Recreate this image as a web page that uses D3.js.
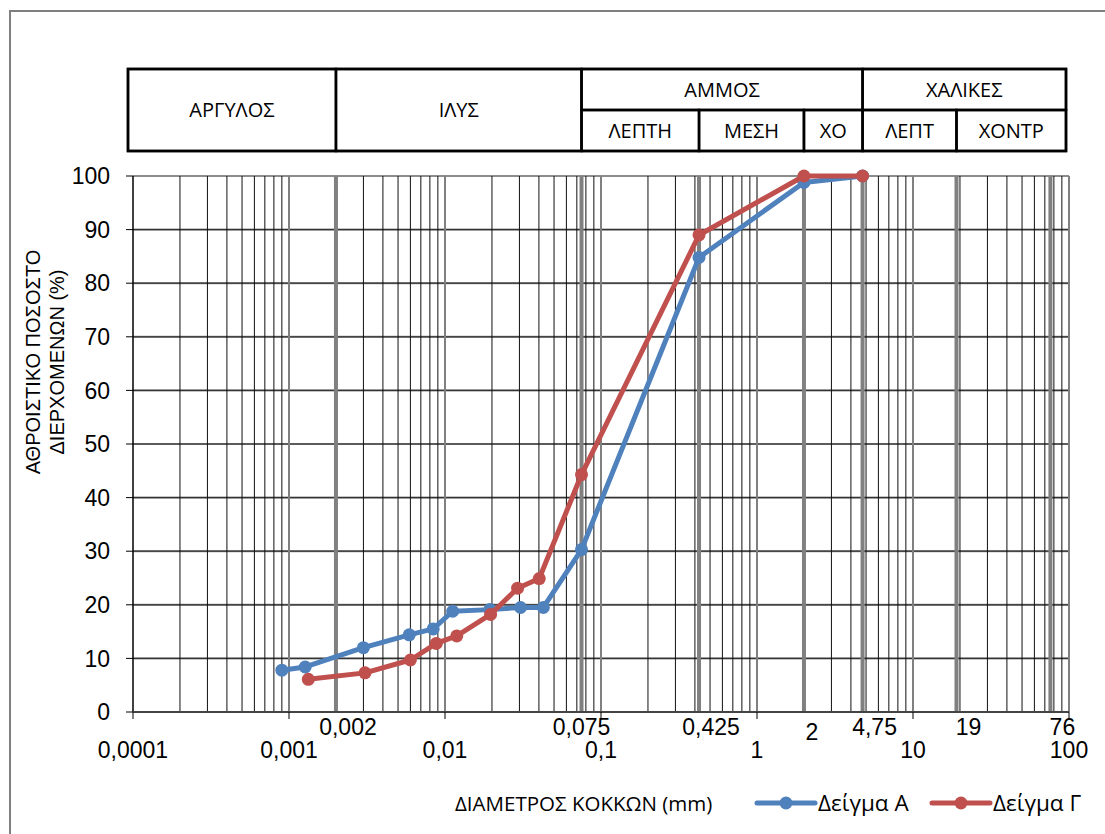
<!DOCTYPE html>
<html>
<head>
<meta charset="utf-8">
<script src="https://cdn.jsdelivr.net/npm/d3@7"></script>
<style>
  body { margin: 0; background: #fff; }
  svg { display: block; }
</style>
</head>
<body>
<div id="chart"></div>
<script>
// grain size data (diameter in mm, % passing)
var diamA = [0.0009, 0.00127, 0.003, 0.0059, 0.0084, 0.0112, 0.0194, 0.0305, 0.0427, 0.075, 0.425, 2, 4.75];
var passA = [7.8, 8.4, 12.0, 14.4, 15.5, 18.8, 19.1, 19.5, 19.5, 30.3, 84.8, 98.8, 100];
var diamG = [0.00133, 0.00307, 0.006, 0.0088, 0.0119, 0.0196, 0.0292, 0.0402, 0.075, 0.425, 2, 4.75];
var passG = [6.1, 7.3, 9.7, 12.8, 14.2, 18.2, 23.1, 24.9, 44.3, 89.0, 100, 100];

var seriesNames = ["Δείγμα Α", "Δείγμα Γ"];
var decadeTicks = [0.0001, 0.001, 0.01, 0.1, 1, 10, 100];
var decadeLabels = ["0,0001", "0,001", "0,01", "0,1", "1", "10", "100"];
var sieveTicks = [0.002, 0.075, 0.425, 2, 4.75, 19, 76];
var sieveLabels = ["0,002", "0,075", "0,425", "2", "4,75", "19", "76"];
var yTicks = [0, 10, 20, 30, 40, 50, 60, 70, 80, 90, 100];

// soil class header (boundaries in mm)
var topCells = [
    { name: "ΑΡΓΥΛΟΣ", from: null, to: 0.002, span: 2 },
    { name: "ΙΛΥΣ", from: 0.002, to: 0.075, span: 2 },
    { name: "ΑΜΜΟΣ", from: 0.075, to: 4.75, span: 1 },
    { name: "ΧΑΛΙΚΕΣ", from: 4.75, to: null, span: 1 }
];
var subCells = [
    { name: "ΛΕΠΤΗ", from: 0.075, to: 0.425 },
    { name: "ΜΕΣΗ", from: 0.425, to: 2 },
    { name: "ΧΟ", from: 2, to: 4.75 },
    { name: "ΛΕΠΤ", from: 4.75, to: 19 },
    { name: "ΧΟΝΤΡ", from: 19, to: null }
];

var w = 1105, h = 834;
var plotL = 133, plotR = 1069, plotT = 176, plotB = 712;
var tableL = 128, tableR = 1066, tableT = 69, tableM = 110, tableB = 151;

var colorA = "#4f81bd", colorG = "#c0504d";
var numFont = "'Liberation Sans', Arial, sans-serif";
var txtFont = "'Open Sans', 'Noto Sans', sans-serif";

var x = d3.scaleLog().domain([0.0001, 100]).range([plotL, plotR]);
var y = d3.scaleLinear().domain([0, 100]).range([plotB, plotT]);

var svg = d3.select("#chart")
    .append("svg")
    .attr("width", w)
    .attr("height", h);

// outer chart border
svg.append("rect")
    .attr("x", 10).attr("y", 11)
    .attr("width", w).attr("height", h)
    .attr("fill", "none")
    .attr("stroke", "#7f7f7f")
    .attr("stroke-width", 2);

// --- gridlines ---
var grid = svg.append("g");

var minorVals = [];
for (var e = -4; e < 2; e++) {
    for (var m = 2; m <= 9; m++) {
        minorVals.push(m * Math.pow(10, e));
    }
}

// horizontal gridlines
grid.selectAll(".hgrid")
    .data(yTicks)
    .enter()
    .append("line")
    .attr("x1", plotL).attr("x2", plotR)
    .attr("y1", (d) => y(d)).attr("y2", (d) => y(d))
    .attr("stroke", "#8c8c8c")
    .attr("stroke-width", 2.2);

grid.selectAll(".hgrid2")
    .data(yTicks.filter((d) => d > 0 && d < 100))
    .enter()
    .append("line")
    .attr("x1", plotL).attr("x2", plotR)
    .attr("y1", (d) => y(d)).attr("y2", (d) => y(d))
    .attr("stroke", "#111")
    .attr("stroke-width", 1)
    .attr("stroke-opacity", 0.8);

// minor log lines
grid.selectAll(".minor")
    .data(minorVals)
    .enter()
    .append("line")
    .attr("x1", (d) => x(d)).attr("x2", (d) => x(d))
    .attr("y1", plotT).attr("y2", plotB)
    .attr("stroke", "#111")
    .attr("stroke-width", 1);

// decade lines
grid.selectAll(".decade")
    .data(decadeTicks.slice(1))
    .enter()
    .append("line")
    .attr("x1", (d) => x(d)).attr("x2", (d) => x(d))
    .attr("y1", plotT).attr("y2", plotB)
    .attr("stroke", "#808080")
    .attr("stroke-width", 2);

// sieve lines
grid.selectAll(".sieve")
    .data(sieveTicks)
    .enter()
    .append("line")
    .attr("x1", (d) => x(d)).attr("x2", (d) => x(d))
    .attr("y1", plotT).attr("y2", plotB)
    .attr("stroke", "#808080")
    .attr("stroke-width", 4);

// --- axes ---
var axisG = svg.append("g");
axisG.append("line")
    .attr("x1", plotL).attr("x2", plotL)
    .attr("y1", plotT).attr("y2", plotB)
    .attr("stroke", "#000").attr("stroke-width", 1.5);
axisG.append("line")
    .attr("x1", plotL).attr("x2", plotR)
    .attr("y1", plotB).attr("y2", plotB)
    .attr("stroke", "#444").attr("stroke-width", 2);

axisG.selectAll(".ytick")
    .data(yTicks)
    .enter()
    .append("line")
    .attr("x1", plotL - 7).attr("x2", plotL)
    .attr("y1", (d) => y(d)).attr("y2", (d) => y(d))
    .attr("stroke", "#000").attr("stroke-width", 1);

axisG.selectAll(".ylab")
    .data(yTicks)
    .enter()
    .append("text")
    .attr("x", plotL - 23)
    .attr("y", (d) => y(d))
    .attr("dy", "0.36em")
    .attr("text-anchor", "end")
    .style("font-family", numFont)
    .style("font-size", "23px")
    .text((d) => d);

axisG.selectAll(".xtick")
    .data(decadeTicks)
    .enter()
    .append("line")
    .attr("x1", (d) => x(d)).attr("x2", (d) => x(d))
    .attr("y1", plotB).attr("y2", plotB + 7)
    .attr("stroke", "#000").attr("stroke-width", 1);

axisG.selectAll(".xlab")
    .data(decadeTicks)
    .enter()
    .append("text")
    .attr("x", (d) => x(d))
    .attr("y", 758)
    .attr("text-anchor", "middle")
    .style("font-family", numFont)
    .style("font-size", "23px")
    .text((d, i) => decadeLabels[i]);

var sieveShift = { "0,075": 0, "2": 8 };
axisG.selectAll(".slab")
    .data(sieveTicks)
    .enter()
    .append("text")
    .attr("x", (d, i) => x(d) + (sieveLabels[i] in sieveShift ? sieveShift[sieveLabels[i]] : 12))
    .attr("y", (d, i) => sieveLabels[i] === "2" ? 740 : 735)
    .attr("text-anchor", "middle")
    .style("font-family", numFont)
    .style("font-size", "23px")
    .text((d, i) => sieveLabels[i]);

// y axis title
var yTitle = svg.append("text")
    .attr("transform", "translate(45,362) rotate(-90)")
    .attr("text-anchor", "middle")
    .style("font-family", numFont)
    .style("font-size", "20px");
yTitle.append("tspan").attr("x", 0).attr("dy", "-0.25em").text("ΑΘΡΟΙΣΤΙΚΟ ΠΟΣΟΣΤΟ");
yTitle.append("tspan").attr("x", 0).attr("dy", "1.2em").text("ΔΙΕΡΧΟΜΕΝΩΝ (%)");

// --- header table ---
var table = svg.append("g");
function cx(v, side) {
    if (v === null) return side === "l" ? tableL : tableR;
    return x(v);
}
table.append("rect")
    .attr("x", tableL).attr("y", tableT)
    .attr("width", tableR - tableL).attr("height", tableB - tableT)
    .attr("fill", "none").attr("stroke", "#000").attr("stroke-width", 2.5);

table.selectAll(".tcell")
    .data(topCells)
    .enter()
    .append("rect")
    .attr("x", (d) => cx(d.from, "l"))
    .attr("y", tableT)
    .attr("width", (d) => cx(d.to, "r") - cx(d.from, "l"))
    .attr("height", (d) => d.span === 2 ? tableB - tableT : tableM - tableT)
    .attr("fill", "none").attr("stroke", "#000").attr("stroke-width", 2.5);

table.selectAll(".tlab")
    .data(topCells)
    .enter()
    .append("text")
    .attr("x", (d) => (cx(d.from, "l") + cx(d.to, "r")) / 2)
    .attr("y", (d) => d.span === 2 ? (tableT + tableB) / 2 : (tableT + tableM) / 2)
    .attr("dy", "0.35em")
    .attr("text-anchor", "middle")
    .style("font-family", txtFont)
    .style("font-size", "20px")
    .text((d) => d.name);

table.selectAll(".scell")
    .data(subCells)
    .enter()
    .append("rect")
    .attr("x", (d) => cx(d.from, "l"))
    .attr("y", tableM)
    .attr("width", (d) => cx(d.to, "r") - cx(d.from, "l"))
    .attr("height", tableB - tableM)
    .attr("fill", "none").attr("stroke", "#000").attr("stroke-width", 2.5);

table.selectAll(".slab2")
    .data(subCells)
    .enter()
    .append("text")
    .attr("x", (d) => (cx(d.from, "l") + cx(d.to, "r")) / 2)
    .attr("y", (tableM + tableB) / 2)
    .attr("dy", "0.35em")
    .attr("text-anchor", "middle")
    .style("font-family", txtFont)
    .style("font-size", "20px")
    .text((d) => d.name);

// --- series ---
var line = d3.line()
    .x((d) => x(d[0]))
    .y((d) => y(d[1]));

var series = [
    { name: seriesNames[0], color: colorA, pts: d3.zip(diamA, passA) },
    { name: seriesNames[1], color: colorG, pts: d3.zip(diamG, passG) }
];

series.forEach(function (s) {
    var g = svg.append("g");
    g.append("path")
        .datum(s.pts)
        .attr("d", line)
        .attr("fill", "none")
        .attr("stroke", s.color)
        .attr("stroke-width", 5)
        .attr("stroke-linejoin", "round");
    g.selectAll("circle")
        .data(s.pts)
        .enter()
        .append("circle")
        .attr("cx", (d) => x(d[0]))
        .attr("cy", (d) => y(d[1]))
        .attr("r", 6.5)
        .attr("fill", s.color);
});

// --- bottom: axis title + legend ---
svg.append("text")
    .attr("x", 455).attr("y", 804)
    .attr("dy", "0.35em")
    .style("font-family", txtFont)
    .style("font-size", "20.5px")
    .text("ΔΙΑΜΕΤΡΟΣ ΚΟΚΚΩΝ (mm)");

var legend = svg.append("g");
var legX = [757, 932];
series.forEach(function (s, i) {
    var lg = legend.append("g").attr("transform", "translate(" + legX[i] + ",803)");
    lg.append("line")
        .attr("x1", 0).attr("x2", 58)
        .attr("stroke", s.color).attr("stroke-width", 5)
        .attr("stroke-linecap", "round");
    lg.append("circle").attr("cx", 29).attr("r", 6.5).attr("fill", s.color);
    lg.append("text")
        .attr("x", 61).attr("dy", "0.35em")
        .style("font-family", txtFont)
        .style("font-size", "22.5px")
        .text(s.name);
});
</script>
</body>
</html>
